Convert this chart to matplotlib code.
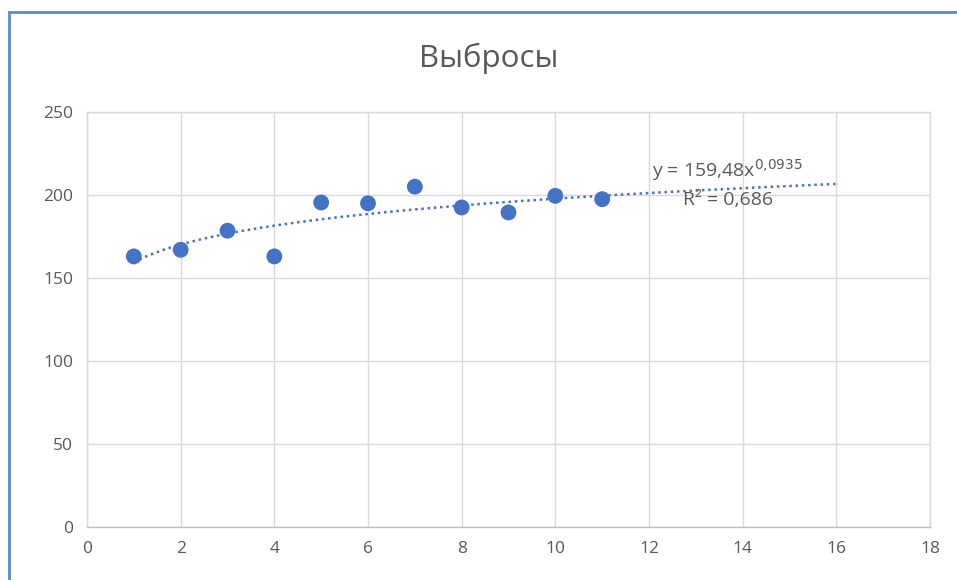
import matplotlib
matplotlib.use("Agg")
import matplotlib.pyplot as plt
import numpy as np
from matplotlib.lines import Line2D

plt.rcParams['font.family'] = ['Open Sans', 'DejaVu Sans']

x_vals = [1, 2, 3, 4, 5, 6, 7, 8, 9, 10, 11]
y_vals = [163, 167, 178.5, 163, 195.5, 195, 205, 192.5, 189.5, 199.5, 197.5]
trend_a = 159.48
trend_b = 0.0935
trend_x_range = [1, 16]
title = "Выбросы"
eq_text = "y = 159,48x$^{0{,}0935}$"
r2_text = "R² = 0,686"
x_ticks = [0, 2, 4, 6, 8, 10, 12, 14, 16, 18]
y_ticks = [0, 50, 100, 150, 200, 250]

blue = "#4472C4"
grid_c = "#D9D9D9"
text_c = "#595959"

fig = plt.figure(figsize=(9.57, 5.8), dpi=100)
ax = fig.add_axes([87/957, 1-527/580, (930-87)/957, (527-112)/580])

tx = np.linspace(trend_x_range[0], trend_x_range[1], 200)
ty = trend_a * tx ** trend_b
ax.plot(tx, ty, linestyle=(0, (1, 1.5)), color=blue, linewidth=1.8, zorder=2)
ax.scatter(x_vals, y_vals, s=130, color=blue, zorder=3, edgecolors='none')

ax.set_xlim(0, 18)
ax.set_ylim(0, 250)
ax.set_xticks(x_ticks)
ax.set_yticks(y_ticks)
ax.grid(True, color=grid_c, linewidth=1)
ax.set_axisbelow(True)
for s in ax.spines.values():
    s.set_color(grid_c)
    s.set_linewidth(1)
ax.spines['bottom'].set_color("#BFBFBF")
ax.tick_params(length=0, labelcolor=text_c, labelsize=12.5, pad=10)

ax.text(12.06, 215, eq_text, fontsize=14, color=text_c, ha='left', va='center')
ax.text(12.73, 197, r2_text, fontsize=14, color=text_c, ha='left', va='center')

fig.text(489/957, 1-58/580, title, ha='center', va='center', fontsize=22.5, color=text_c)

# blue frame
fig.add_artist(Line2D([9/957, 1], [1-12/580, 1-12/580], color="#5B8BD0", linewidth=2, transform=fig.transFigure))
fig.add_artist(Line2D([9/957, 9/957], [0, 1-12/580], color="#5B8BD0", linewidth=2, transform=fig.transFigure))

fig.savefig("out.png", dpi=100)
